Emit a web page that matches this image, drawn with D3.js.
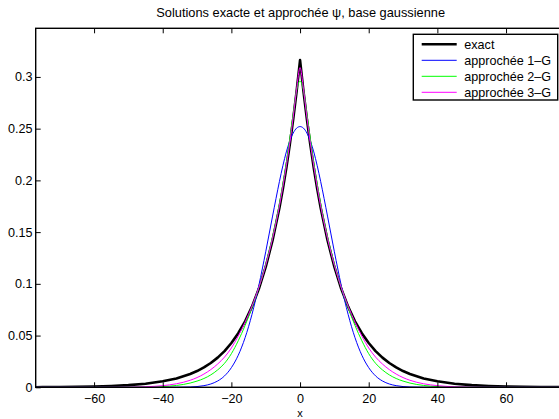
<!DOCTYPE html>
<html>
<head>
<meta charset="utf-8">
<script src="https://cdn.jsdelivr.net/npm/d3@7"></script>
<style>
  html, body { margin: 0; padding: 0; background: #fff; overflow: hidden; }
  svg { display: block; font-family: "Liberation Sans", Arial, Helvetica, sans-serif; }
</style>
</head>
<body>
<svg id="chart" width="559" height="419"></svg>
<script>
// Sample positions along x (shared by all four curves)
const xs = [-77,-75,-70,-65,-60,-55,-50,-45,-40,-36,-32,-30,-28,-26,-24,-22,-20,-18,-16,-14,-12,-10,-8,-6,-5,-4,-3,-2,-1,0,
            1,2,3,4,5,6,8,10,12,14,16,18,20,22,24,26,28,30,32,36,40,45,50,55,60,65,70,75,77];

// Exact solution psi(x)
const exact = [0.0001,0.0002,0.0003,0.0005,0.0008,0.0013,0.0021,0.0035,0.0058,0.0086,0.0129,0.0157,0.0192,0.0235,0.0287,0.0350,0.0428,0.0523,0.0638,0.0780,0.0952,0.1163,0.1421,0.1735,0.1918,0.2120,0.2343,0.2589,0.2861,0.3162,
               0.2861,0.2589,0.2343,0.2120,0.1918,0.1735,0.1421,0.1163,0.0952,0.0780,0.0638,0.0523,0.0428,0.0350,0.0287,0.0235,0.0192,0.0157,0.0129,0.0086,0.0058,0.0035,0.0021,0.0013,0.0008,0.0005,0.0003,0.0002,0.0001];

// One-gaussian approximation
const approx1 = [0,0,0,0,0,0,0,0,0,0.00005,0.0003,0.0007,0.0016,0.0032,0.0061,0.0110,0.0190,0.0310,0.0480,0.0705,0.0985,0.1310,0.1655,0.1990,0.2142,0.2275,0.2380,0.2457,0.2505,0.2520,
                 0.2505,0.2457,0.2380,0.2275,0.2142,0.1990,0.1655,0.1310,0.0985,0.0705,0.0480,0.0310,0.0190,0.0110,0.0061,0.0032,0.0016,0.0007,0.0003,0.00005,0,0,0,0,0,0,0,0,0];

// Two-gaussian approximation
const approx2 = [0,0,0,0,0,0,0.00003,0.00015,0.0007,0.0018,0.0041,0.0060,0.0085,0.0120,0.0168,0.0232,0.0325,0.0450,0.0598,0.0770,0.0965,0.1190,0.1455,0.1775,0.1965,0.2170,0.2400,0.2640,0.2870,0.2960,
                 0.2870,0.2640,0.2400,0.2170,0.1965,0.1775,0.1455,0.1190,0.0965,0.0770,0.0598,0.0450,0.0325,0.0232,0.0168,0.0120,0.0085,0.0060,0.0041,0.0018,0.0007,0.00015,0.00003,0,0,0,0,0,0];

// Three-gaussian approximation
const approx3 = [0,0,0,0,0,0.00002,0.00012,0.0005,0.0016,0.0034,0.0068,0.0094,0.0128,0.0171,0.0225,0.0292,0.0380,0.0495,0.0630,0.0785,0.0965,0.1180,0.1440,0.1755,0.1940,0.2140,0.2360,0.2610,0.2880,0.3090,
                 0.2880,0.2610,0.2360,0.2140,0.1940,0.1755,0.1440,0.1180,0.0965,0.0785,0.0630,0.0495,0.0380,0.0292,0.0225,0.0171,0.0128,0.0094,0.0068,0.0034,0.0016,0.0005,0.00012,0.00002,0,0,0,0,0];

const seriesNames = ["exact", "approchée 1–G", "approchée 2–G", "approchée 3–G"];
const seriesColors = ["#000000", "#0000ff", "#00ff00", "#ff00ff"];
const seriesWidths = [2.6, 1, 1, 1];
const seriesValues = [exact, approx1, approx2, approx3];

const xTicks = [-60, -40, -20, 0, 20, 40, 60];
const xTickLabels = ["\u221260", "\u221240", "\u221220", "0", "20", "40", "60"];
const yTicks = [0, 0.05, 0.1, 0.15, 0.2, 0.25, 0.3];
const yTickLabels = ["0", "0.05", "0.1", "0.15", "0.2", "0.25", "0.3"];

const titleText = "Solutions exacte et approchée \u03c8, base gaussienne";
const xLabelText = "x";

// Layout
const plot = { left: 35.7, right: 564.4, top: 28.3, bottom: 387.3 };
const svg = d3.select("#chart");

const x = d3.scaleLinear().domain([-77, 77]).range([plot.left, plot.right]);
const y = d3.scaleLinear().domain([0, 0.347]).range([plot.bottom, plot.top]);

svg.append("defs").append("clipPath").attr("id", "plotClip")
  .append("rect")
  .attr("x", plot.left).attr("y", plot.top - 2)
  .attr("width", plot.right - plot.left).attr("height", plot.bottom - plot.top + 2);

// Curves
const curves = svg.append("g").attr("clip-path", "url(#plotClip)");
seriesValues.forEach((vals, i) => {
  const line = d3.line()
    .x((d, k) => x(xs[k]))
    .y(d => y(d))
    .curve(i === 0 ? d3.curveLinear : d3.curveMonotoneX);
  curves.append("path")
    .datum(vals)
    .attr("d", line)
    .attr("fill", "none")
    .attr("stroke", seriesColors[i])
    .attr("stroke-width", seriesWidths[i])
    .attr("stroke-linejoin", "round");
});

// Axes (ticks pointing inward on all four sides)
const tickLen = 5;
const fontSize = 12.6;

const gBottom = svg.append("g").attr("transform", `translate(0,${plot.bottom})`)
  .call(d3.axisBottom(x).tickValues(xTicks).tickFormat((d, i) => xTickLabels[i])
        .tickSizeInner(-tickLen).tickSizeOuter(0).tickPadding(7));
const gTop = svg.append("g").attr("transform", `translate(0,${plot.top})`)
  .call(d3.axisTop(x).tickValues(xTicks).tickFormat("")
        .tickSizeInner(-tickLen).tickSizeOuter(0));
const gLeft = svg.append("g").attr("transform", `translate(${plot.left},0)`)
  .call(d3.axisLeft(y).tickValues(yTicks).tickFormat((d, i) => yTickLabels[i])
        .tickSizeInner(-tickLen).tickSizeOuter(0).tickPadding(3.2));
const gRight = svg.append("g").attr("transform", `translate(${plot.right},0)`)
  .call(d3.axisRight(y).tickValues(yTicks).tickFormat("")
        .tickSizeInner(-tickLen).tickSizeOuter(0));

[gBottom, gTop, gLeft, gRight].forEach(g => {
  g.select(".domain").remove();
  g.selectAll(".tick line").attr("stroke", "#000").attr("stroke-width", 1);
  g.selectAll(".tick text").attr("fill", "#000")
    .style("font-family", "'Liberation Sans', Arial, sans-serif")
    .style("font-size", fontSize + "px");
});

// Axes frame
svg.append("rect")
  .attr("x", plot.left).attr("y", plot.top)
  .attr("width", plot.right - plot.left).attr("height", plot.bottom - plot.top)
  .attr("fill", "none").attr("stroke", "#000").attr("stroke-width", 1.4);

// Title and x label
svg.append("text")
  .attr("x", 300.7).attr("y", 17.3)
  .attr("text-anchor", "middle")
  .style("font-size", "12.8px")
  .text(titleText);

svg.append("text")
  .attr("x", 300).attr("y", 416.6)
  .attr("text-anchor", "middle")
  .style("font-size", "11px")
  .text(xLabelText);

// Legend
const legend = { x: 413.3, y: 34.3, w: 144.4, h: 65.7, rowY0: 44.3, rowStep: 16, lineX0: 421.7, lineX1: 456.7, textX: 464.3 };
const gLegend = svg.append("g");
gLegend.append("rect")
  .attr("x", legend.x).attr("y", legend.y)
  .attr("width", legend.w).attr("height", legend.h)
  .attr("fill", "#fff").attr("stroke", "#000").attr("stroke-width", 1.4);
seriesNames.forEach((name, i) => {
  const ry = legend.rowY0 + i * legend.rowStep;
  gLegend.append("line")
    .attr("x1", legend.lineX0).attr("x2", legend.lineX1)
    .attr("y1", ry).attr("y2", ry)
    .attr("stroke", seriesColors[i]).attr("stroke-width", seriesWidths[i]);
  gLegend.append("text")
    .attr("x", legend.textX).attr("y", ry)
    .attr("dy", "0.35em")
    .style("font-size", "12.6px")
    .text(name);
});
</script>
</body>
</html>
